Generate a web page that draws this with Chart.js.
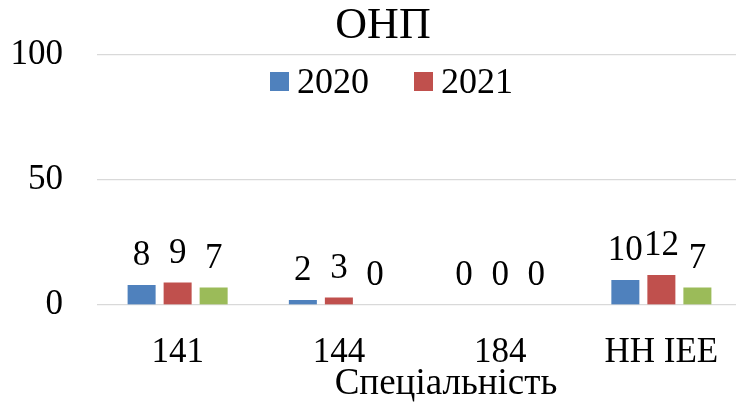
<!DOCTYPE html>
<html><head><meta charset="utf-8">
<script src="https://cdn.jsdelivr.net/npm/chart.js@4"></script>
<style>html,body{margin:0;padding:0;overflow:hidden;background:#fff}
#wrap{position:relative;width:742px;height:402px}</style>
</head><body><div id="wrap"><canvas id="c"></canvas></div>
<script>
const categories = ['141', '144', '184', 'НН ІЕЕ'];
const seriesNames = ['2020', '2021', '2022'];
const values2020 = [8, 2, 0, 10];
const values2021 = [9, 3, 0, 12];
const values2022 = [7, 0, 0, 7];
const yTicks = [0, 50, 100];
const legendShown = ['2020', '2021'];
const chartTitle = 'ОНП';
const xAxisTitle = 'Спеціальність';

const colors = ['#4f81bd', '#c0504d', '#9bbb59'];
const FONT = "'Liberation Serif', 'Times New Roman', serif";

const extras = {
  id: 'extras',
  afterDatasetsDraw(chart) {
    const ctx = chart.ctx;
    ctx.save();
    // data labels
    ctx.fillStyle = '#000';
    ctx.font = '35px ' + FONT;
    ctx.textAlign = 'center';
    ctx.textBaseline = 'alphabetic';
    chart.data.datasets.forEach((ds, i) => {
      const meta = chart.getDatasetMeta(i);
      meta.data.forEach((el, j) => {
        ctx.fillText(String(ds.data[j]), el.x, el.y - 20);
      });
    });
    // title
    ctx.font = '44px ' + FONT;
    ctx.fillText(chartTitle, 383, 38);
    // x axis title
    ctx.font = '37px ' + FONT;
    ctx.fillText(xAxisTitle, 446, 394);
    // legend
    ctx.font = '36px ' + FONT;
    ctx.textAlign = 'left';
    let x = 270;
    chart.data.datasets.forEach((ds) => {
      if (!legendShown.includes(ds.label)) return;
      ctx.fillStyle = ds.backgroundColor;
      ctx.fillRect(x, 72, 19, 19);
      ctx.fillStyle = '#000';
      ctx.fillText(ds.label, x + 27, 93);
      x += 27 + ctx.measureText(ds.label).width + 45;
    });
    ctx.restore();
  }
};

new Chart(document.getElementById('c'), {
  type: 'bar',
  data: {
    labels: categories,
    datasets: [
      { label: seriesNames[0], data: values2020, backgroundColor: colors[0] },
      { label: seriesNames[1], data: values2021, backgroundColor: colors[1] },
      { label: seriesNames[2], data: values2022, backgroundColor: colors[2] }
    ]
  },
  options: {
    responsive: true,
    maintainAspectRatio: false,
    animation: false,
    layout: { padding: { top: 52, right: 0, bottom: 0, left: 0 } },
    datasets: { bar: { categoryPercentage: 0.67, barPercentage: 0.778, borderWidth: 0 } },
    plugins: { legend: { display: false }, title: { display: false }, tooltip: { enabled: false } },
    scales: {
      x: {
        grid: { display: false },
        border: { display: false },
        ticks: { color: '#000', font: { family: FONT, size: 35 }, padding: 19, maxRotation: 0 },
        afterFit: s => { s.height = 97; }
      },
      y: {
        min: 0, max: 100,
        grid: { color: '#d9d9d9', lineWidth: 1.3, drawTicks: false },
        border: { display: false },
        ticks: { color: '#000', font: { family: FONT, size: 35 }, padding: 34 },
        afterBuildTicks: s => { s.ticks = yTicks.map(v => ({ value: v })); },
        afterFit: s => { s.width = 97; }
      }
    }
  },
  plugins: [extras]
});
</script></body></html>
